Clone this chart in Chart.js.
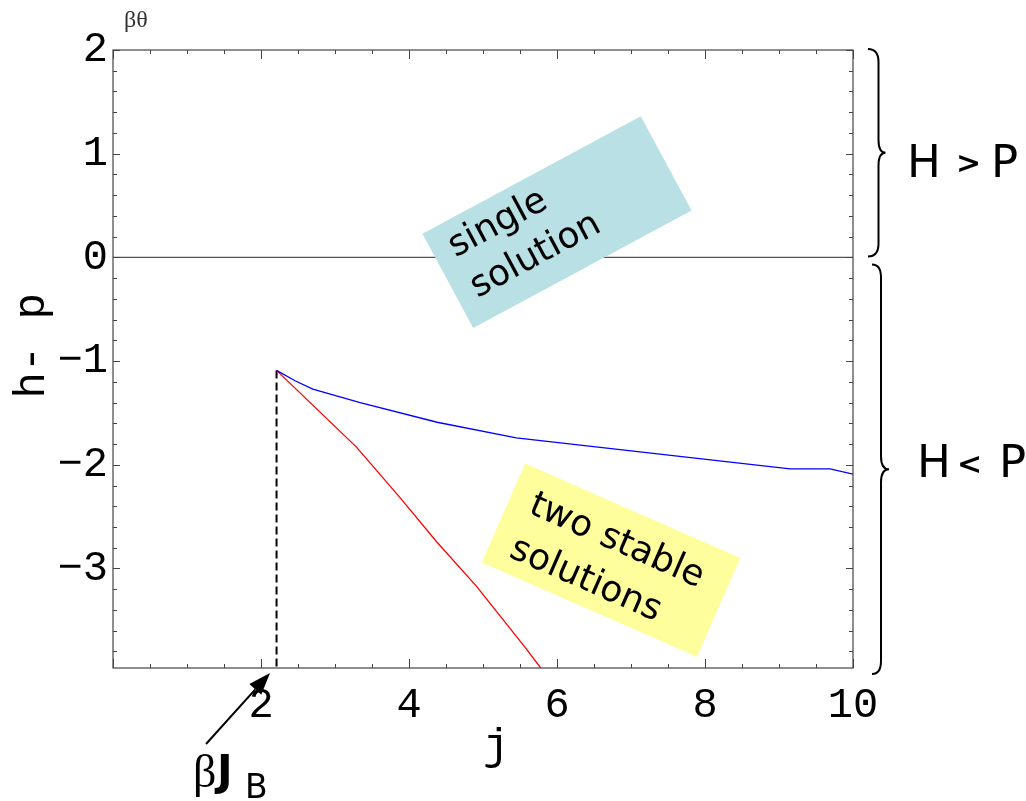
<!DOCTYPE html>
<html>
<head>
<meta charset="utf-8">
<title>h-p against j</title>
<script src="https://cdn.jsdelivr.net/npm/chart.js@4.4.1/dist/chart.umd.min.js"></script>
<style>
  html, body { margin: 0; padding: 0; background: #fff; }
  #wrap { width: 1026px; height: 801px; }
</style>
</head>
<body>
<div id="wrap"><canvas id="chartHP" width="1026" height="801"></canvas></div>
<script>
// upper branch (blue) and lower branch (red) of h - p against j
var jBlue  = [2.21, 2.46, 2.70, 3.34, 4.38, 5.45, 9.15, 9.69, 10.0]
var hpBlue = [-1.09, -1.19, -1.27, -1.40, -1.59, -1.74, -2.04, -2.04, -2.09]
var jRed   = [2.21, 3.29, 3.87, 4.37, 4.91, 5.58, 5.78]
var hpRed  = [-1.09, -1.83, -2.31, -2.74, -3.17, -3.77, -3.96]

// branching point, beta J_B
var jB = 2.21
var hpB = -1.09

var xTicks = [2, 4, 6, 8, 10]
var yTicks = [-3, -2, -1, 0, 1, 2]
var xMin = 0, xMax = 10
var yMin = -3.96, yMax = 2

var monoFont = '"Liberation Mono", "Courier New", Cousine, "DejaVu Sans Mono", monospace'
var handFont = '"DejaVu Sans", sans-serif'

function toPoints(xs, ys) {
    return xs.map(function (x, i) { return { x: x, y: ys[i] } })
}

function minus(v) {
    return v < 0 ? '\u2212' + Math.abs(v) : String(v)
}

// frame with inward ticks on all four sides
var frameTicks = {
    id: 'frameTicks',
    afterDraw: function (chart) {
        var ctx = chart.ctx, a = chart.chartArea
        var xs = chart.scales.x, ys = chart.scales.y
        ctx.save()
        ctx.strokeStyle = '#444'
        ctx.lineWidth = 1.2
        ctx.strokeRect(a.left, a.top, a.right - a.left, a.bottom - a.top)
        ctx.lineWidth = 1
        ctx.beginPath()
        for (var k = 0; k <= 20; k++) {
            var px = Math.round(xs.getPixelForValue(k * 0.5)) + 0.5
            var len = (k % 4 === 0) ? 9 : 4
            ctx.moveTo(px, a.bottom); ctx.lineTo(px, a.bottom - len)
            ctx.moveTo(px, a.top); ctx.lineTo(px, a.top + len)
        }
        for (var m = -19; m <= 10; m++) {
            var py = Math.round(ys.getPixelForValue(m * 0.2)) + 0.5
            var l2 = (m % 5 === 0) ? 7 : 4
            ctx.moveTo(a.left, py); ctx.lineTo(a.left + l2, py)
            ctx.moveTo(a.right, py); ctx.lineTo(a.right - l2, py)
        }
        ctx.stroke()
        ctx.restore()
    }
}

// tilted note boxes
var notes = {
    id: 'notes',
    afterDatasetsDraw: function (chart) {
        var ctx = chart.ctx
        var xs = chart.scales.x, ys = chart.scales.y
        var boxes = [
            { x: 6.0, y: 0.34, w: 248, h: 107, angle: -28.3, fill: '#b9e0e4',
              lines: ['single', 'solution'], tx: -106, ty: [-17, 29] },
            { x: 6.73, y: -2.92, w: 235, h: 108, angle: 23.7, fill: '#fefe9c',
              lines: ['two stable', 'solutions'], tx: -96, ty: [-10, 38] }
        ]
        boxes.forEach(function (b) {
            ctx.save()
            ctx.translate(xs.getPixelForValue(b.x), ys.getPixelForValue(b.y))
            ctx.rotate(b.angle * Math.PI / 180)
            ctx.fillStyle = b.fill
            ctx.fillRect(-b.w / 2, -b.h / 2, b.w, b.h)
            ctx.fillStyle = '#000'
            ctx.font = '36px ' + handFont
            ctx.textAlign = 'left'
            ctx.textBaseline = 'alphabetic'
            b.lines.forEach(function (t, i) { ctx.fillText(t, b.tx, b.ty[i]) })
            ctx.restore()
        })
    }
}

// braces, region labels, beta J_B arrow
var extras = {
    id: 'extras',
    afterDraw: function (chart) {
        var ctx = chart.ctx, a = chart.chartArea
        var xs = chart.scales.x, ys = chart.scales.y

        function brace(xEnd, xV, xTip, y0, y1, r) {
            var ym = (y0 + y1) / 2
            ctx.beginPath()
            ctx.moveTo(xEnd, y0)
            ctx.quadraticCurveTo(xV, y0, xV, y0 + r)
            ctx.lineTo(xV, ym - r)
            ctx.quadraticCurveTo(xV, ym, xTip, ym)
            ctx.quadraticCurveTo(xV, ym, xV, ym + r)
            ctx.lineTo(xV, y1 - r)
            ctx.quadraticCurveTo(xV, y1, xEnd, y1)
            ctx.stroke()
        }

        ctx.save()
        ctx.strokeStyle = '#000'
        ctx.lineWidth = 2
        brace(868, 878.5, 885.5, ys.getPixelForValue(2) - 1, ys.getPixelForValue(0) - 1, 13)
        brace(872, 881, 889, ys.getPixelForValue(0) + 7, a.bottom + 6, 13)

        ctx.fillStyle = '#000'
        ctx.textAlign = 'left'
        ctx.textBaseline = 'alphabetic'
        ctx.font = '45px ' + handFont
        ctx.fillText('H', 907, 177)
        ctx.fillText('P', 991, 177)
        ctx.fillText('H', 917, 477)
        ctx.fillText('P', 999, 477)
        ctx.font = 'bold 30px ' + handFont
        ctx.fillText('>', 956, 173)
        ctx.fillText('<', 957, 474)

        // arrow to the branching point
        var tipX = xs.getPixelForValue(jB) - 6.5, tipY = a.bottom + 5
        var tailX = tipX - 64, tailY = tipY + 71
        var len = Math.hypot(tipX - tailX, tipY - tailY)
        var dx = (tipX - tailX) / len, dy = (tipY - tailY) / len
        var bx = tipX - 22 * dx, by = tipY - 22 * dy
        ctx.beginPath()
        ctx.moveTo(tailX, tailY)
        ctx.lineTo(bx, by)
        ctx.stroke()
        ctx.beginPath()
        ctx.moveTo(tipX, tipY)
        ctx.lineTo(bx - 8 * dy, by + 8 * dx)
        ctx.lineTo(bx + 8 * dy, by - 8 * dx)
        ctx.closePath()
        ctx.fill()

        ctx.font = '46px "Liberation Serif", serif'
        ctx.fillText('\u03b2', 193, 787)
        ctx.font = 'bold 42px ' + handFont
        ctx.fillText('J', 217, 785)
        ctx.font = '33px ' + handFont
        ctx.fillText('B', 245, 798)

        ctx.fillStyle = '#333'
        ctx.font = '24px "Liberation Serif", serif'
        ctx.fillText('\u03b2\u03b8', 124, 27)
        ctx.restore()
    }
}

var ctxHP = document.getElementById('chartHP')

var chartHP = new Chart(ctxHP, {
    type: 'line',
    data: {
        datasets: [
            {
                label: 'zero',
                data: [{ x: xMin, y: 0 }, { x: xMax, y: 0 }],
                borderColor: '#555',
                borderWidth: 1.2
            },
            {
                label: 'upper branch',
                data: toPoints(jBlue, hpBlue),
                borderColor: '#0000ff',
                borderWidth: 1.3
            },
            {
                label: 'lower branch',
                data: toPoints(jRed, hpRed),
                borderColor: '#ff0000',
                borderWidth: 1.3
            },
            {
                label: 'jB',
                data: [{ x: jB, y: hpB }, { x: jB, y: yMin }],
                borderColor: '#000',
                borderWidth: 2,
                borderDash: [8, 4]
            }
        ]
    },

    options: {
        responsive: false,
        animation: false,
        events: [],
        elements: {
            point: { radius: 0 },
            line: { tension: 0, fill: false }
        },
        layout: {
            padding: { top: 50, right: 173, left: 0, bottom: 0 }
        },
        plugins: {
            legend: { display: false },
            tooltip: { enabled: false }
        },

        scales: {
            x: {
                type: 'linear',
                min: xMin,
                max: xMax,
                afterFit: function (scale) { scale.height = 133 },
                afterBuildTicks: function (scale) {
                    scale.ticks = xTicks.map(function (v) { return { value: v } })
                },
                grid: { display: false, drawTicks: false },
                border: { display: false },
                ticks: {
                    padding: 13,
                    color: '#000',
                    maxRotation: 0,
                    font: { family: monoFont, size: 42 },
                    callback: function (v) { return minus(v) }
                },
                title: {
                    display: true,
                    text: ' j',
                    color: '#000',
                    font: { family: monoFont, size: 44 },
                    padding: { top: 0, bottom: 27 }
                }
            },

            y: {
                type: 'linear',
                min: yMin,
                max: yMax,
                afterFit: function (scale) { scale.width = 113 },
                afterBuildTicks: function (scale) {
                    scale.ticks = yTicks.map(function (v) { return { value: v } })
                },
                grid: { display: false, drawTicks: false },
                border: { display: false },
                ticks: {
                    padding: 5,
                    color: '#000',
                    font: { family: monoFont, size: 42 },
                    callback: function (v) { return minus(v) }
                },
                title: {
                    display: true,
                    text: ' h- p',
                    color: '#000',
                    font: { family: monoFont, size: 44 },
                    padding: { top: 6, bottom: 0 }
                }
            }
        }
    },

    plugins: [notes, frameTicks, extras]
})
</script>
</body>
</html>
